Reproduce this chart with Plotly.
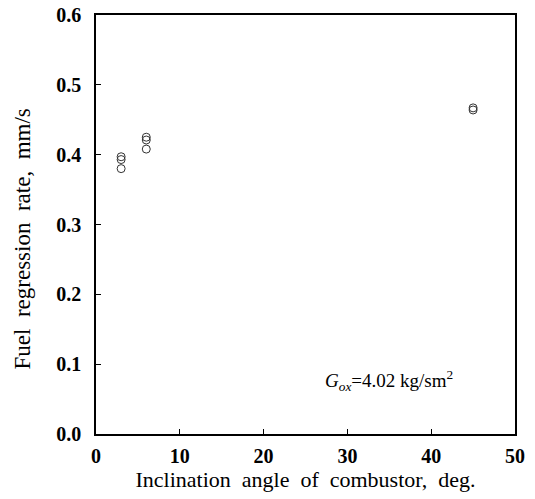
import plotly.graph_objects as go

angle = [3, 3, 3, 6, 6, 6, 45, 45]
rate = [0.397, 0.393, 0.380, 0.425, 0.421, 0.408, 0.467, 0.464]

x_ticks = [0, 10, 20, 30, 40, 50]
y_ticks = [0.0, 0.1, 0.2, 0.3, 0.4, 0.5, 0.6]

font = "Liberation Serif, Times New Roman, serif"

fig = go.Figure()
fig.add_trace(go.Scatter(
    x=angle, y=rate, mode="markers",
    marker=dict(symbol="circle-open", size=8, color="#333333", line=dict(width=1)),
    showlegend=False,
))

fig.update_layout(
    width=535, height=499,
    margin=dict(l=96, r=20, t=15, b=65, autoexpand=False),
    plot_bgcolor="white", paper_bgcolor="white",
    font=dict(family=font, color="black"),
    xaxis=dict(
        range=[0, 50], tickvals=x_ticks, ticktext=[str(v) for v in x_ticks],
        ticks="inside", ticklen=5, tickwidth=1, tickcolor="black",
        showline=True, linecolor="black", linewidth=1.5, mirror=True,
        showgrid=False, zeroline=False, ticklabelstandoff=3,
        ticklabeloverflow="allow", automargin=False,
        tickfont=dict(family=font, size=20, color="black", weight="bold"),
        title=dict(text="Inclination &nbsp;angle &nbsp;of &nbsp;combustor, &nbsp;deg.",
                   font=dict(family=font, size=22), standoff=6),
    ),
    yaxis=dict(
        range=[0, 0.6], tickvals=y_ticks, ticktext=[f"{v:.1f}" for v in y_ticks],
        ticks="inside", ticklen=5, tickwidth=1, tickcolor="black",
        showline=True, linecolor="black", linewidth=1.5, mirror=True,
        showgrid=False, zeroline=False, ticklabelstandoff=9,
        ticklabeloverflow="allow", automargin=False,
        tickfont=dict(family=font, size=20, color="black", weight="bold"),
        title=dict(text="Fuel &nbsp;regression &nbsp;rate, &nbsp;mm/s&nbsp;&nbsp;&nbsp;&nbsp;&nbsp;",
                   font=dict(family=font, size=23), standoff=19),
    ),
)

fig.add_annotation(
    x=35.0, y=0.077, xref="x", yref="y", showarrow=False,
    text="<i>G</i><sub><i>ox</i></sub>=4.02 kg/sm<sup>2</sup>",
    font=dict(family=font, size=19, color="black"),
)

fig.write_html("out.html", config={"displayModeBar": False},
               post_script="document.body.style.margin='0';")
